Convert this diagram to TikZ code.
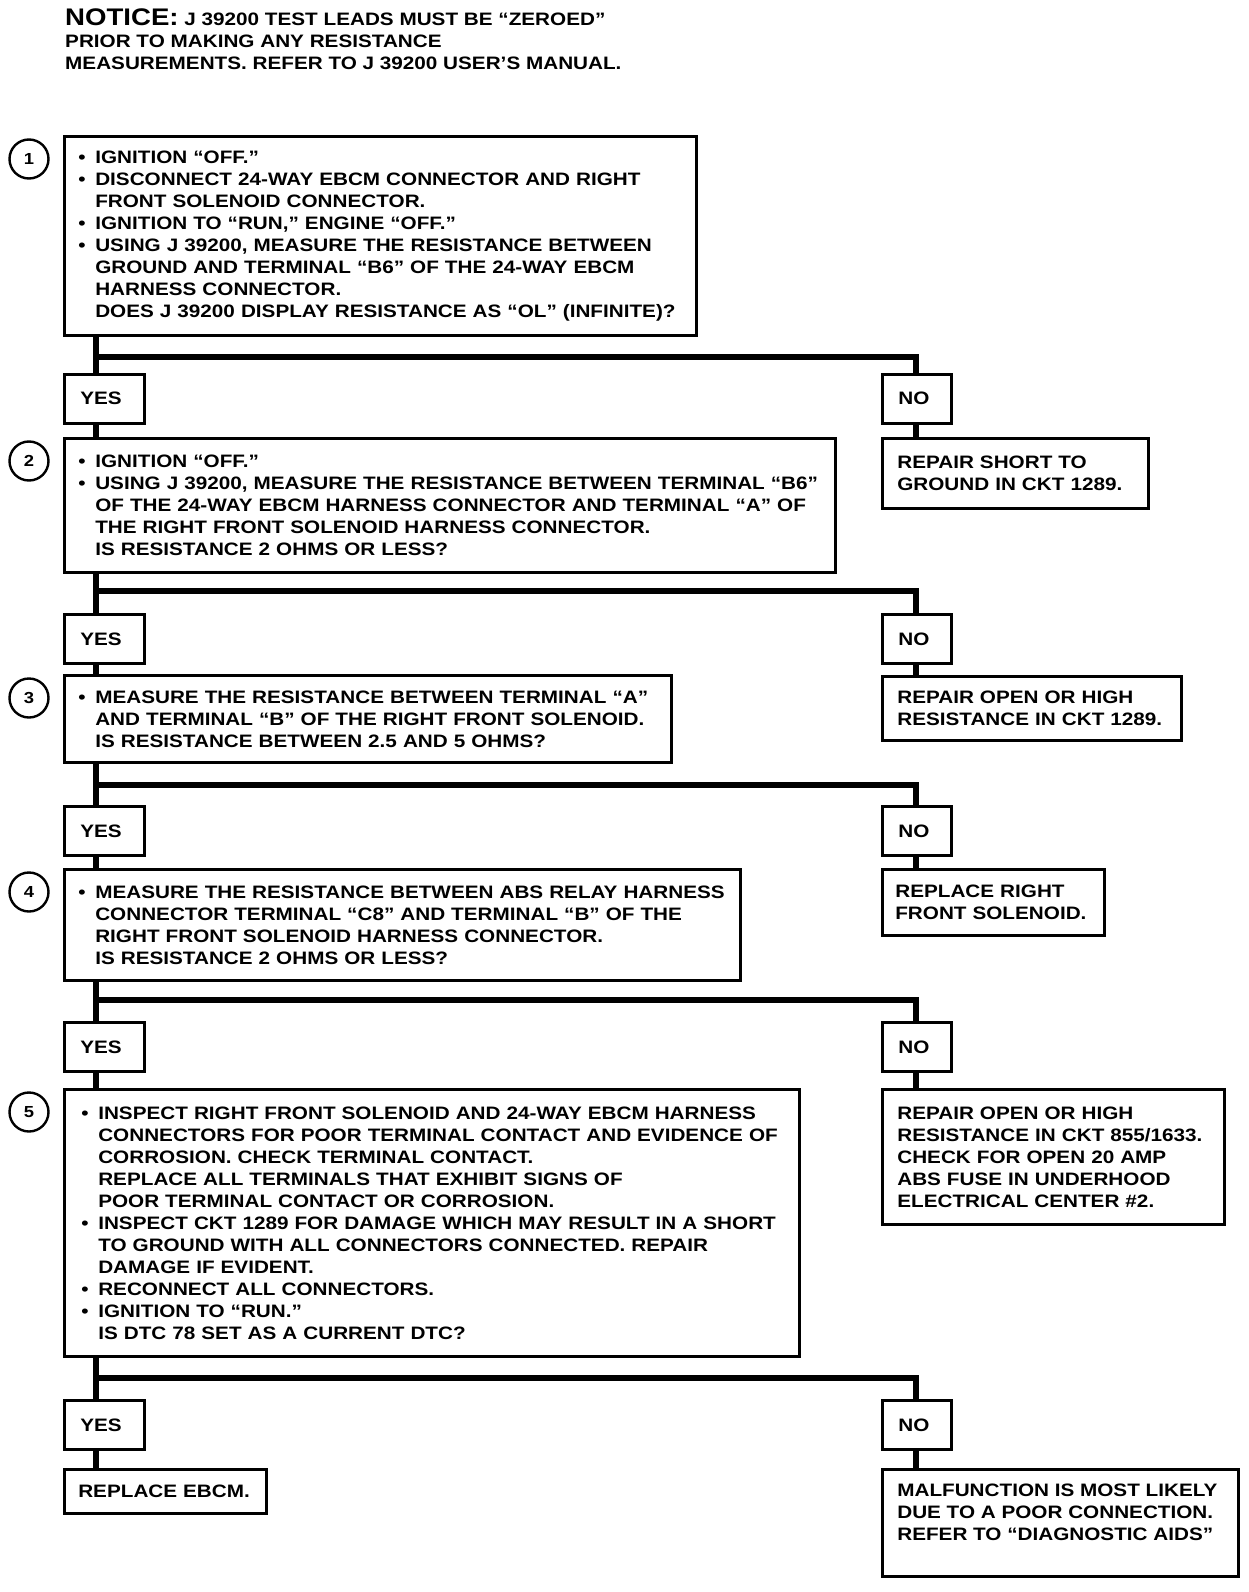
\documentclass[tikz,border=0pt]{standalone}
\usepackage{fontspec}
\newfontfamily\chartfont{Liberation Sans}[FakeStretch=1.15]
\usetikzlibrary{calc}
\newcommand{\itm}{\makebox[17pt][l]{•}}
\newcommand{\ind}{\hspace*{17pt}}
\begin{document}
\begin{tikzpicture}[x=1pt, y=-1pt, font=\chartfont\bfseries\fontsize{18pt}{22pt}\selectfont]
	\tikzstyle{stepbox}=[draw, line width=2.6pt, anchor=north west, align=left, inner xsep=14pt, inner ysep=0pt]
	\tikzstyle{answer}=[draw, line width=2.6pt, anchor=north west, align=left, inner xsep=16pt, inner ysep=0pt, minimum height=49pt]
	\tikzstyle{result}=[draw, line width=2.6pt, anchor=north west, align=left, inner xsep=15pt, inner ysep=0pt]
	\tikzstyle{stepnum}=[draw, circle, line width=2.4pt, minimum size=39pt, inner sep=0pt, font=\chartfont\bfseries\fontsize{16pt}{16pt}\selectfont]
	\tikzstyle{link}=[draw, line width=6pt]
	\useasboundingbox (0, 0) rectangle (1248, 1592);

	\node[anchor=north west, align=left, inner sep=0pt] at (65, 9) (notice) {{\fontsize{24pt}{24pt}\selectfont NOTICE:} J 39200 TEST LEADS MUST BE “ZEROED”\\
		PRIOR TO MAKING ANY RESISTANCE\\
		MEASUREMENTS. REFER TO J 39200 USER’S MANUAL.};

	\coordinate (trunk) at (96, 0);
	\coordinate (branch) at (916, 0);

	% step 1
	\node[stepnum] at (29, 159) (numOne) {1};
	\node[stepbox, minimum height=199pt, text width=604pt] at (63, 135) (stepOne) {\itm IGNITION “OFF.”\\
		\itm DISCONNECT 24-WAY EBCM CONNECTOR AND RIGHT\\
		\ind FRONT SOLENOID CONNECTOR.\\
		\itm IGNITION TO “RUN,” ENGINE “OFF.”\\
		\itm USING J 39200, MEASURE THE RESISTANCE BETWEEN\\
		\ind GROUND AND TERMINAL “B6” OF THE 24-WAY EBCM\\
		\ind HARNESS CONNECTOR.\\
		\ind DOES J 39200 DISPLAY RESISTANCE AS “OL” (INFINITE)?};
	\node[answer, text width=48pt] at (63, 373) (yesOne) {YES};
	\node[answer, text width=37pt] at (881, 373) (noOne) {NO};
	\node[result, minimum height=70pt, text width=236pt] at (881, 437) (repairOne) {REPAIR SHORT TO\\ GROUND IN CKT 1289.};
	\coordinate (forkOne) at (96, 357);
	\path[link] (stepOne.south -| trunk) -- (yesOne.north -| trunk);
	\path[link] (forkOne) -| (noOne.north -| branch);
	\path[link] (noOne.south -| branch) -- (repairOne.north -| branch);

	% step 2
	\node[stepnum] at (29, 461) (numTwo) {2};
	\node[stepbox, minimum height=134pt, text width=743pt] at (63, 437) (stepTwo) {\itm IGNITION “OFF.”\\
		\itm USING J 39200, MEASURE THE RESISTANCE BETWEEN TERMINAL “B6”\\
		\ind OF THE 24-WAY EBCM HARNESS CONNECTOR AND TERMINAL “A” OF\\
		\ind THE RIGHT FRONT SOLENOID HARNESS CONNECTOR.\\
		\ind IS RESISTANCE 2 OHMS OR LESS?};
	\path[link] (yesOne.south -| trunk) -- (stepTwo.north -| trunk);
	\node[answer, text width=48pt] at (63, 613) (yesTwo) {YES};
	\node[answer, text width=37pt] at (881, 613) (noTwo) {NO};
	\node[result, minimum height=64pt, text width=269pt] at (881, 675) (repairTwo) {REPAIR OPEN OR HIGH\\ RESISTANCE IN CKT 1289.};
	\coordinate (forkTwo) at (96, 591);
	\path[link] (stepTwo.south -| trunk) -- (yesTwo.north -| trunk);
	\path[link] (forkTwo) -| (noTwo.north -| branch);
	\path[link] (noTwo.south -| branch) -- (repairTwo.north -| branch);

	% step 3
	\node[stepnum] at (29, 698) (numThree) {3};
	\node[stepbox, minimum height=87pt, text width=579pt] at (63, 674) (stepThree) {\itm MEASURE THE RESISTANCE BETWEEN TERMINAL “A”\\
		\ind AND TERMINAL “B” OF THE RIGHT FRONT SOLENOID.\\
		\ind IS RESISTANCE BETWEEN 2.5 AND 5 OHMS?};
	\path[link] (yesTwo.south -| trunk) -- (stepThree.north -| trunk);
	\node[answer, text width=48pt] at (63, 805) (yesThree) {YES};
	\node[answer, text width=37pt] at (881, 805) (noThree) {NO};
	\node[result, inner xsep=13pt, minimum height=66pt, text width=196pt] at (881, 868) (replaceSolenoid) {REPLACE RIGHT\\ FRONT SOLENOID.};
	\coordinate (forkThree) at (96, 785);
	\path[link] (stepThree.south -| trunk) -- (yesThree.north -| trunk);
	\path[link] (forkThree) -| (noThree.north -| branch);
	\path[link] (noThree.south -| branch) -- (replaceSolenoid.north -| branch);

	% step 4
	\node[stepnum] at (29, 892) (numFour) {4};
	\node[stepbox, minimum height=111pt, text width=648pt] at (63, 868) (stepFour) {\itm MEASURE THE RESISTANCE BETWEEN ABS RELAY HARNESS\\
		\ind CONNECTOR TERMINAL “C8” AND TERMINAL “B” OF THE\\
		\ind RIGHT FRONT SOLENOID HARNESS CONNECTOR.\\
		\ind IS RESISTANCE 2 OHMS OR LESS?};
	\path[link] (yesThree.south -| trunk) -- (stepFour.north -| trunk);
	\node[answer, text width=48pt] at (63, 1021) (yesFour) {YES};
	\node[answer, text width=37pt] at (881, 1021) (noFour) {NO};
	\node[result, minimum height=135pt, text width=312pt] at (881, 1088) (repairThree) {REPAIR OPEN OR HIGH\\
		RESISTANCE IN CKT 855/1633.\\
		CHECK FOR OPEN 20 AMP\\
		ABS FUSE IN UNDERHOOD\\
		ELECTRICAL CENTER \#2.};
	\coordinate (forkFour) at (96, 1000);
	\path[link] (stepFour.south -| trunk) -- (yesFour.north -| trunk);
	\path[link] (forkFour) -| (noFour.north -| branch);
	\path[link] (noFour.south -| branch) -- (repairThree.north -| branch);

	% step 5
	\node[stepnum] at (29, 1112) (numFive) {5};
	\node[stepbox, inner xsep=17pt, minimum height=267pt, text width=701pt] at (63, 1088) (stepFive) {\itm INSPECT RIGHT FRONT SOLENOID AND 24-WAY EBCM HARNESS\\
		\ind CONNECTORS FOR POOR TERMINAL CONTACT AND EVIDENCE OF\\
		\ind CORROSION. CHECK TERMINAL CONTACT.\\
		\ind REPLACE ALL TERMINALS THAT EXHIBIT SIGNS OF\\
		\ind POOR TERMINAL CONTACT OR CORROSION.\\
		\itm INSPECT CKT 1289 FOR DAMAGE WHICH MAY RESULT IN A SHORT\\
		\ind TO GROUND WITH ALL CONNECTORS CONNECTED. REPAIR\\
		\ind DAMAGE IF EVIDENT.\\
		\itm RECONNECT ALL CONNECTORS.\\
		\itm IGNITION TO “RUN.”\\
		\ind IS DTC 78 SET AS A CURRENT DTC?};
	\path[link] (yesFour.south -| trunk) -- (stepFive.north -| trunk);
	\node[answer, text width=48pt] at (63, 1399) (yesFive) {YES};
	\node[answer, text width=37pt] at (881, 1399) (noFive) {NO};
	\node[result, inner xsep=14pt, minimum height=44pt, text width=174pt] at (63, 1468) (replaceEbcm) {REPLACE EBCM.};
	\node[draw, line width=2.6pt, anchor=north west, inner xsep=15pt, inner ysep=0pt, minimum height=107pt] at (881, 1468) (malfunction) {\parbox[c][77pt][t]{326pt}{MALFUNCTION IS MOST LIKELY\\ DUE TO A POOR CONNECTION.\\ REFER TO “DIAGNOSTIC AIDS”}};
	\coordinate (forkFive) at (96, 1378);
	\path[link] (stepFive.south -| trunk) -- (yesFive.north -| trunk);
	\path[link] (forkFive) -| (noFive.north -| branch);
	\path[link] (yesFive.south -| trunk) -- (replaceEbcm.north -| trunk);
	\path[link] (noFive.south -| branch) -- (malfunction.north -| branch);
\end{tikzpicture}
\end{document}
